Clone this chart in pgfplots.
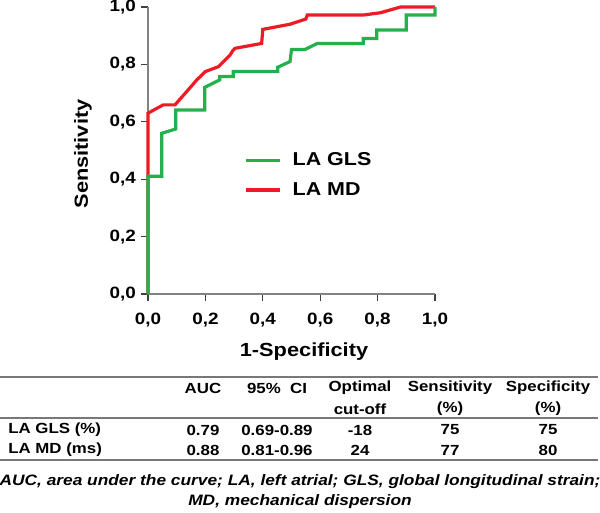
\documentclass[border=0pt]{standalone}
\usepackage{fontspec}
\setmainfont{Liberation Sans}[FakeStretch=1.15]
\usepackage{pgfplots}
\pgfplotsset{compat=1.18}
\definecolor{gls}{RGB}{34,177,76}
\definecolor{md}{RGB}{237,28,36}
\definecolor{axgray}{RGB}{130,130,130}
\definecolor{rulegray}{RGB}{120,120,120}

\begin{document}
\begin{tikzpicture}[x=0.75pt,y=0.75pt]
\path[use as bounding box] (0,0) rectangle (600,512);
\begin{axis}[
    at={(111pt,163.5pt)}, anchor=south west,
    scale only axis,
    width=215.25pt, height=215.25pt,
    xmin=0, xmax=1, ymin=0, ymax=1,
    axis lines=left,
    axis line style={-, axgray, line width=2pt},
    clip=false,
    xtick={0,0.2,...,1.0},
    ytick={0,0.2,...,1.0},
    tick align=outside,
    major tick length=5pt,
    major tick style={black!75, line width=0.8pt},
    /pgf/number format/.cd, fixed, fixed zerofill, precision=1, use comma, assume math mode=true,
    /pgfplots/.cd,
    tick label style={font=\bfseries\fontsize{12.3}{14}\selectfont},
    xticklabel style={yshift=-5.5pt},
    yticklabel style={xshift=-0.5pt},
    legend style={at={(0.334,0.502)}, anchor=north west, draw=none, fill=none,
        inner sep=0pt, row sep=7pt,
        font=\bfseries\fontsize{14}{17}\selectfont},
    legend cell align={left},
    legend image code/.code={\draw[#1] (0pt,0pt) -- (26pt,0pt); \path (32pt,0pt);},
]
% LA MD (red), drawn first
\addplot[md, line width=2.4pt, forget plot] coordinates {
    (0,0) (0,0.63) (0.053,0.659) (0.094,0.659) (0.146,0.718) (0.17,0.746)
    (0.2,0.775) (0.245,0.792) (0.286,0.833) (0.297,0.85) (0.303,0.856)
    (0.396,0.873) (0.4,0.922) (0.495,0.94) (0.55,0.958) (0.555,0.972)
    (0.75,0.972) (0.81,0.98) (0.88,1.0) (1.0,1.0)
};
% LA GLS (green)
\addplot[gls, line width=2.4pt] coordinates {
    (0,0) (0,0.41) (0.048,0.41) (0.048,0.56) (0.097,0.575) (0.097,0.641)
    (0.198,0.641) (0.198,0.72) (0.25,0.746) (0.25,0.758) (0.297,0.758)
    (0.297,0.775) (0.452,0.775) (0.452,0.79) (0.495,0.81) (0.5,0.852)
    (0.547,0.852) (0.59,0.873) (0.75,0.873) (0.75,0.89) (0.797,0.89)
    (0.797,0.92) (0.9,0.92) (0.9,0.972) (1.0,0.972) (1.0,1.0)
};
\addlegendentry{LA GLS}
\addlegendimage{md, line width=2.4pt}
\addlegendentry{LA MD}
\end{axis}
% axis titles
\node[font=\bfseries\fontsize{14.2}{17}\selectfont] at (304,160) {1-Specificity};
\node[font=\bfseries\fontsize{14.2}{17}\selectfont, rotate=90] at (83,358) {Sensitivity};
% table rules
\draw[rulegray, line width=1.5pt] (0,135) -- (598,135);
\draw[rulegray, line width=0.9pt] (0,94) -- (598,94);
\draw[rulegray, line width=1.5pt] (0,52) -- (598,52);
\begin{scope}[every node/.style={font=\bfseries\fontsize{11}{13}\selectfont, inner sep=0pt}]
% header
\node at (203,124) {AUC};
\node at (277,124) {95\%\ \ CI};
\node at (360,124) {Optimal};
\node at (450,124) {Sensitivity};
\node at (548,124) {Specificity};
\node at (360,103) {cut-off};
\node at (450,103) {(\%)};
\node at (548,103) {(\%)};
% rows
\node[anchor=west] at (8,82) {LA GLS (\%)};
\node at (203,82) {0.79};
\node at (277,82) {0.69-0.89};
\node at (360,82) {-18};
\node at (450,82) {75};
\node at (548,82) {75};
\node[anchor=west] at (8,62) {LA MD (ms)};
\node at (203,62) {0.88};
\node at (277,62) {0.81-0.96};
\node at (360,62) {24};
\node at (450,62) {77};
\node at (548,62) {80};
\end{scope}
% footnote
\node[font=\bfseries\itshape\fontsize{11.3}{14}\selectfont, inner sep=0pt] at (300,30) {AUC, area under the curve; LA, left atrial; GLS, global longitudinal strain;};
\node[font=\bfseries\itshape\fontsize{11.3}{14}\selectfont, inner sep=0pt] at (300,10) {MD, mechanical dispersion};
\end{tikzpicture}
\end{document}
